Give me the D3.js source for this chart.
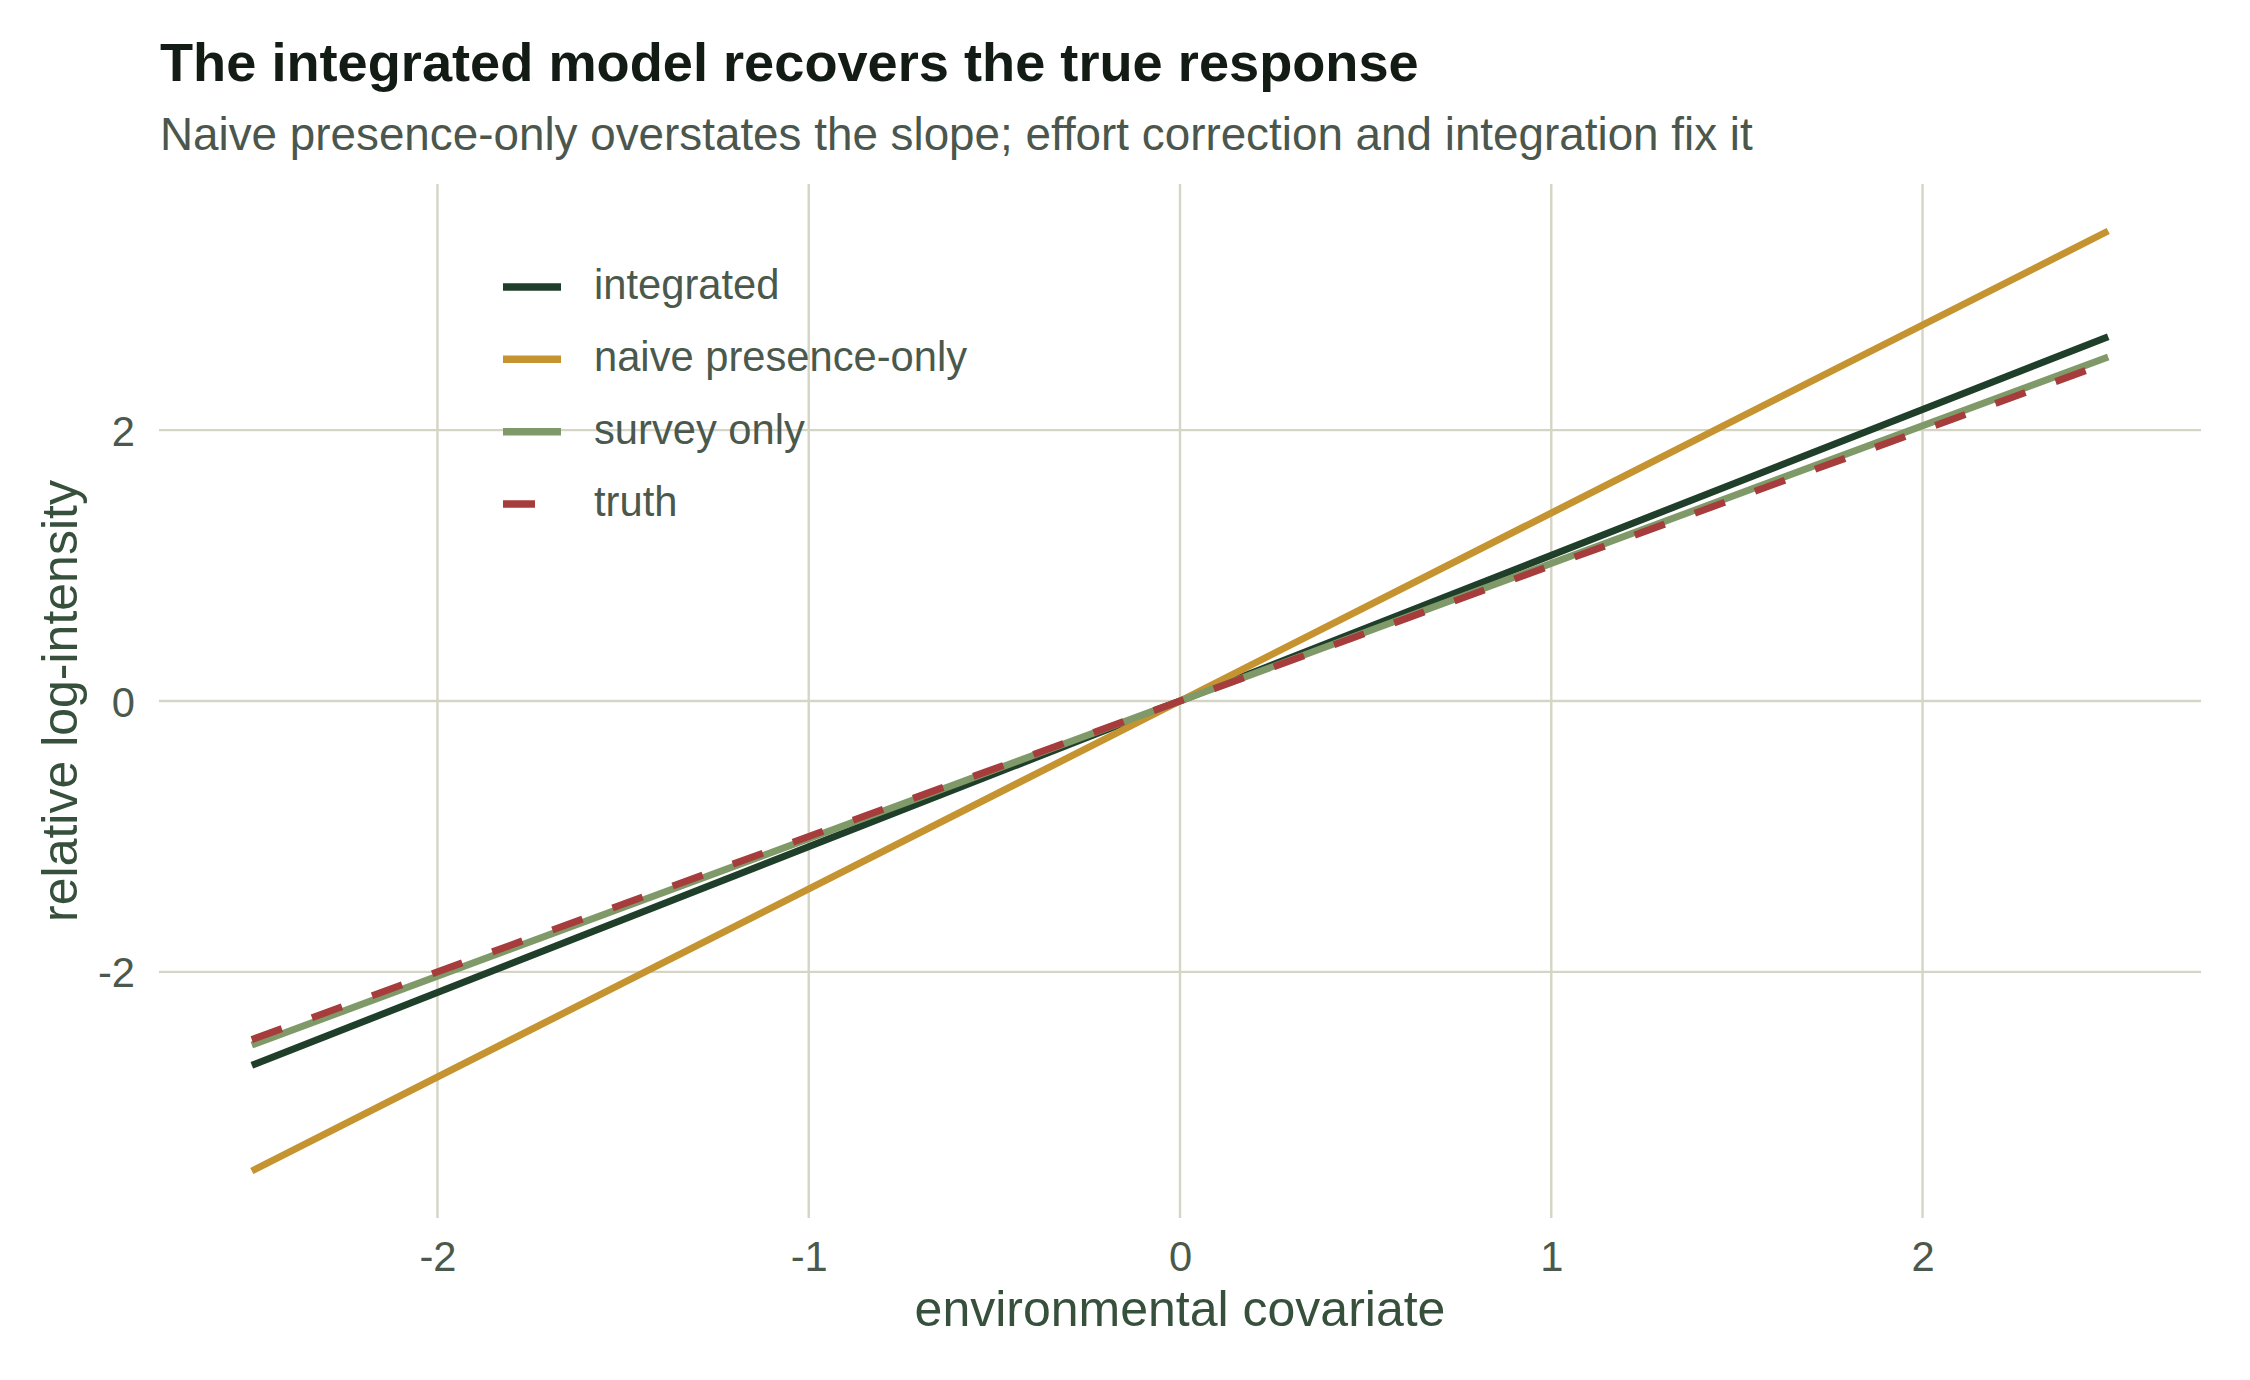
<!DOCTYPE html>
<html>
<head>
<meta charset="utf-8">
<script src="https://cdn.jsdelivr.net/npm/d3@7"></script>
<style>
  html, body { margin: 0; padding: 0; background: #ffffff; }
  svg { display: block; font-family: "Liberation Sans", Arial, Helvetica, sans-serif; }
</style>
</head>
<body>
<div id="chart"></div>
<script>
// values
const covariate = [-2.5, 0, 2.5]
const integrated = [-2.69, 0, 2.69]
const naivePresence = [-3.47, 0, 3.47]
const surveyOnly = [-2.54, 0, 2.54]
const truth = [-2.5, 0, 2.5]

const seriesNames = ["integrated", "naive presence-only", "survey only", "truth"]
const xTicks = [-2, -1, 0, 1, 2]
const yTicks = [-2, 0, 2]

const colors = {
  "integrated": "#1f3f2a",
  "naive presence-only": "#c59431",
  "survey only": "#7f9a68",
  "truth": "#a63c3c"
}

const series = [
  { name: "integrated", values: integrated },
  { name: "naive presence-only", values: naivePresence },
  { name: "survey only", values: surveyOnly },
  { name: "truth", values: truth, dashed: true }
]

const width = 2250
const height = 1380
const panel = { left: 159, right: 2201, top: 184, bottom: 1218 }

const svg = d3.select("#chart")
  .append("svg")
  .attr("width", width)
  .attr("height", height)
  .attr("viewBox", `0 0 ${width} ${height}`)

svg.append("rect").attr("width", width).attr("height", height).attr("fill", "#ffffff")

// ggplot-style 5% expansion around the data range
const xExt = d3.extent(covariate)
const xPad = (xExt[1] - xExt[0]) * 0.05
const x = d3.scaleLinear().domain([xExt[0] - xPad, xExt[1] + xPad]).range([panel.left, panel.right])

const yExt = d3.extent(series.flatMap(s => s.values))
const yPad = (yExt[1] - yExt[0]) * 0.05
const y = d3.scaleLinear().domain([yExt[0] - yPad, yExt[1] + yPad]).range([panel.bottom, panel.top])

const gridColor = "#d5d5c5"
const tickColor = "#4b594d"
const fmt = v => String(v)   // plain hyphen minus, like the reference

// grid
svg.append("g")
  .selectAll("line")
  .data(xTicks)
  .join("line")
  .attr("x1", d => x(d)).attr("x2", d => x(d))
  .attr("y1", panel.top).attr("y2", panel.bottom)
  .attr("stroke", gridColor).attr("stroke-width", 2.4)

svg.append("g")
  .selectAll("line")
  .data(yTicks)
  .join("line")
  .attr("x1", panel.left).attr("x2", panel.right)
  .attr("y1", d => y(d)).attr("y2", d => y(d))
  .attr("stroke", gridColor).attr("stroke-width", 2.4)

// axes (tick labels only)
svg.append("g")
  .attr("transform", `translate(0,${panel.bottom})`)
  .call(d3.axisBottom(x).tickValues(xTicks).tickSize(0).tickPadding(53).tickFormat(fmt))
  .call(g => g.select(".domain").remove())
  .call(g => g.selectAll(".tick text")
    .attr("font-size", 41.7).attr("fill", tickColor)
    .attr("font-family", "Liberation Sans, Arial, sans-serif")
    .attr("dy", 0))

svg.append("g")
  .attr("transform", `translate(${panel.left},0)`)
  .call(d3.axisLeft(y).tickValues(yTicks).tickSize(0).tickPadding(24).tickFormat(fmt))
  .call(g => g.select(".domain").remove())
  .call(g => g.selectAll(".tick text")
    .attr("font-size", 41.7).attr("fill", tickColor)
    .attr("font-family", "Liberation Sans, Arial, sans-serif")
    .attr("dy", "0.36em"))

// lines
const line = d3.line()
  .x((d, i) => x(covariate[i]))
  .y(d => y(d))

svg.append("g")
  .selectAll("path")
  .data(series)
  .join("path")
  .attr("d", d => line(d.values))
  .attr("fill", "none")
  .attr("stroke", d => colors[d.name])
  .attr("stroke-width", 7)
  .attr("stroke-linecap", "butt")
  .attr("stroke-dasharray", d => d.dashed ? "32,32" : null)

// legend
const legendY = d3.scalePoint().domain(seriesNames).range([287, 504])
const legend = svg.append("g")
legend.selectAll("line")
  .data(series)
  .join("line")
  .attr("x1", 503).attr("x2", 561)
  .attr("y1", d => legendY(d.name)).attr("y2", d => legendY(d.name))
  .attr("stroke", d => colors[d.name])
  .attr("stroke-width", 7.5)
  .attr("stroke-dasharray", d => d.dashed ? "32,32" : null)
legend.selectAll("text")
  .data(series)
  .join("text")
  .attr("x", 594)
  .attr("y", d => legendY(d.name) + 12)
  .attr("font-size", 41.7)
  .attr("fill", tickColor)
  .text(d => d.name)

// titles
svg.append("text")
  .attr("x", 160).attr("y", 81)
  .attr("font-size", 54.2).attr("font-weight", "bold")
  .attr("fill", "#131b15")
  .text("The integrated model recovers the true response")

svg.append("text")
  .attr("x", 160).attr("y", 150)
  .attr("font-size", 45.8)
  .attr("fill", "#4b564d")
  .text("Naive presence-only overstates the slope; effort correction and integration fix it")

svg.append("text")
  .attr("x", (panel.left + panel.right) / 2).attr("y", 1326)
  .attr("text-anchor", "middle")
  .attr("font-size", 50)
  .attr("fill", "#36503c")
  .text("environmental covariate")

svg.append("text")
  .attr("transform", `translate(77,${(panel.top + panel.bottom) / 2}) rotate(-90)`)
  .attr("text-anchor", "middle")
  .attr("font-size", 50)
  .attr("fill", "#36503c")
  .text("relative log-intensity")
</script>
</body>
</html>
